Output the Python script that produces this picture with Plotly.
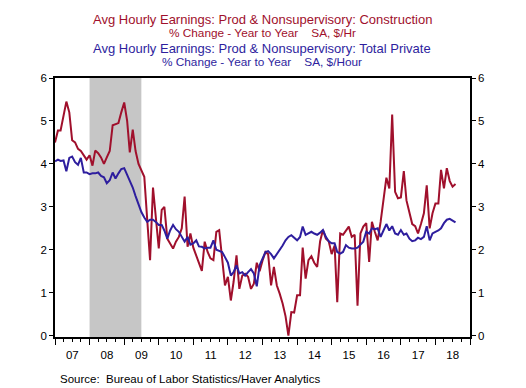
import pandas as pd
import plotly.graph_objects as go

start_month = "2007-01-01"

construction = [
    4.5, 4.78, 4.78, 5.1, 5.45, 5.2, 4.55, 4.5, 4.35, 4.3, 4.2, 4.1,
    4.2, 3.96, 4.31, 4.25, 4.15, 4.0, 4.15, 4.3, 4.9, 4.92, 4.95, 5.2,
    5.43, 5.0, 4.27, 4.8, 4.3, 4.0, 3.85, 3.7, 2.7, 1.76, 3.45, 2.8,
    2.03, 2.93, 3.0, 2.26, 2.15, 2.03, 2.19, 2.3, 2.5, 3.24, 2.07, 2.38,
    2.05, 1.85, 1.7, 1.51, 2.19, 1.95, 1.8, 1.76, 2.42, 2.46, 1.8, 1.17,
    1.37, 0.82, 1.25, 1.87, 1.09, 1.4, 1.44, 1.37, 1.09, 1.21, 1.7, 1.5,
    1.75, 1.95, 1.9, 1.17, 1.6, 1.17, 0.98, 0.75, 0.45, 0.0, 0.55, 0.54,
    0.94, 0.94, 2.05, 1.33, 1.76, 1.85, 1.7, 1.6, 2.2, 2.46, 2.26, 2.2,
    1.9, 2.1, 0.78, 2.38, 2.35, 2.45, 2.54, 2.3, 2.35, 0.7, 2.38, 2.54,
    2.62, 1.72, 2.65, 2.42, 2.22, 2.65, 3.1, 3.68, 3.43, 5.15, 3.35, 3.2,
    3.22, 3.83, 3.15, 2.85, 2.6, 2.55, 2.38, 2.6, 2.85, 3.5, 2.5, 2.85,
    3.08, 3.08, 3.86, 3.43, 3.9, 3.6, 3.47, 3.53,
]

total_private = [
    4.06, 4.1, 4.07, 4.08, 3.83, 4.14, 4.17, 4.04, 3.98, 4.14, 3.8, 3.8,
    3.76, 3.78, 3.78, 3.8, 3.72, 3.69, 3.55, 3.62, 3.8, 3.66, 3.78, 3.88,
    3.9, 3.75, 3.6, 3.45, 3.25, 3.05, 2.88, 2.75, 2.65, 2.7, 2.7, 2.65,
    2.58, 2.58, 2.45, 2.26, 2.45, 2.58, 2.48, 2.42, 2.3, 2.19, 2.3, 2.12,
    2.15, 2.22, 2.08, 2.07, 2.03, 2.05, 2.05, 2.22, 2.0, 1.97, 1.95, 1.83,
    1.7, 1.4, 1.48, 1.64, 1.45, 1.48, 1.4, 1.48, 1.55, 1.45, 1.15, 1.64,
    1.8, 1.95, 1.97, 1.9, 1.8, 1.9, 1.97, 2.1, 2.22, 2.3, 2.34, 2.28,
    2.22, 2.3, 2.54, 2.35, 2.38, 2.42, 2.38, 2.35, 2.4, 2.46, 2.3, 2.2,
    2.15, 2.15, 1.95, 1.91, 1.95, 2.11, 2.05, 2.03, 2.03, 2.05, 2.12, 2.19,
    2.42, 2.38, 2.5, 2.48, 2.5, 2.3, 2.45, 2.6, 2.45, 2.55, 2.38, 2.35,
    2.46, 2.35, 2.38, 2.26, 2.2, 2.22, 2.28, 2.25, 2.3, 2.55, 2.22, 2.38,
    2.42, 2.45, 2.5, 2.62, 2.7, 2.72, 2.68, 2.64,
]

recession = ("2008-01-01", "2009-07-01")
x_range = ["2007-01-01", "2019-01-01"]
y_range = [-0.03, 6]
y_ticks = [0, 1, 2, 3, 4, 5, 6]

title_lines = [
    ("Avg Hourly Earnings: Prod & Nonsupervisory: Construction", 13, "red", 19),
    ("% Change - Year to Year    SA, $/Hr", 11.8, "red", 33),
    ("Avg Hourly Earnings: Prod & Nonsupervisory: Total Private", 13, "blue", 48),
    ("% Change - Year to Year    SA, $/Hour", 11.8, "blue", 62),
]
source_text = "Source:  Bureau of Labor Statistics/Haver Analytics"

RED = "#A0102C"
BLUE = "#2E1E9E"
FONT = "Arial, Liberation Sans, sans-serif"

# page body has an 8px default margin: figure is placed at (8, 8)
OFF = 8
W, H = 526 - OFF, 388 - OFF
ML, MR, MT, MB = 55 - OFF, 56, 78 - OFF, 51
PH = H - MT - MB
PW = W - ML - MR

dates = pd.date_range(start_month, periods=len(construction), freq="MS")

fig = go.Figure()
fig.add_trace(go.Scatter(x=dates, y=construction, mode="lines",
                         line=dict(color=RED, width=2), yaxis="y"))
fig.add_trace(go.Scatter(x=dates[:len(total_private)], y=total_private, mode="lines",
                         line=dict(color=BLUE, width=2), yaxis="y2"))

fig.add_shape(type="rect", xref="x", yref="paper", x0=recession[0], x1=recession[1],
              y0=0, y1=1, fillcolor="#C6C6C6", line=dict(width=0), layer="below")

def py(p):
    return (H - MB - (p - OFF)) / PH

def px(p):
    return ((p - OFF) - ML) / PW

annotations = []
for text, size, col, ypx in title_lines:
    annotations.append(dict(text=text, xref="paper", yref="paper", x=px(262), y=py(ypx),
                            xanchor="center", yanchor="middle", showarrow=False,
                            font=dict(size=size, color=RED if col == "red" else BLUE, family=FONT)))
annotations.append(dict(text=source_text, xref="paper", yref="paper",
                        x=px(58), y=py(379), xanchor="left", yanchor="middle",
                        showarrow=False, font=dict(size=11.5, color="black", family=FONT)))

axis_common = dict(range=y_range, tickvals=y_ticks, showgrid=False, zeroline=False,
                   showline=True, linecolor="black", linewidth=1.5,
                   ticks="outside", ticklen=4, tickcolor="black",
                   tickfont=dict(size=11.5, family=FONT, color="black"))

fig.update_layout(
    width=W, height=H, margin=dict(l=ML, r=MR, t=MT, b=MB),
    paper_bgcolor="white", plot_bgcolor="white", showlegend=False,
    font=dict(family=FONT, color="black"),
    xaxis=dict(type="date", range=x_range, dtick="M12", tick0="2007-01-01",
               tickformat="%y", ticklabelmode="period", showgrid=False, zeroline=False,
               showline=True, mirror=True, linecolor="black", linewidth=1.5,
               ticks="outside", ticklen=6, tickcolor="black",
               tickfont=dict(size=11.5, family=FONT, color="black"),
               minor=dict(dtick="M3", ticks="outside", ticklen=3, tickcolor="black", showgrid=False)),
    yaxis=dict(side="left", **axis_common),
    yaxis2=dict(side="right", overlaying="y", **axis_common),
    annotations=annotations,
)

fig.write_html("out.html")
